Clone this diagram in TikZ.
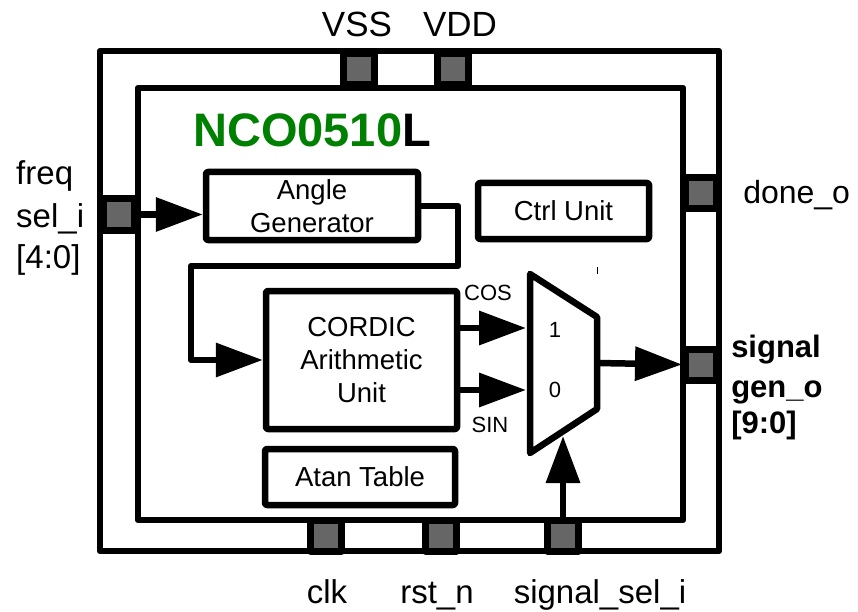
\documentclass[tikz,border=0pt]{standalone}
\usepackage{fontspec}
\setmainfont{Liberation Sans}
\usetikzlibrary{arrows.meta,positioning,calc}
\definecolor{ncogreen}{RGB}{0,128,0}
\definecolor{padgray}{RGB}{102,102,102}

\begin{document}
\begin{tikzpicture}[
    x=1pt, y=-1pt,
    line width=6.5pt, line join=round,
    block/.style={draw, rounded corners=2pt, align=center, inner sep=0pt, font=\fontsize{27.5}{33}\selectfont},
    pad/.style={draw, fill=padgray, line width=7pt, minimum size=31pt, inner sep=0pt},
    portlbl/.style={font=\fontsize{33}{41}\selectfont, inner sep=0pt, anchor=base},
    outlbl/.style={font=\fontsize{31}{38}\selectfont\bfseries, inner sep=0pt, anchor=base west},
    tinylbl/.style={font=\fontsize{22}{26}\selectfont, inner sep=0pt},
    sig/.style={-{Triangle[length=47pt,width=33pt]}}
  ]
  \useasboundingbox (0,0) rectangle (858,612);

  % chip outline, outer and core ring
  \draw (100,51) rectangle (719,551);
  \draw (138,88) rectangle (683,520);

  % pads
  \node[pad] (vss) at (359,69.5) {};
  \node[pad] (vdd) at (453,69.5) {};
  \node[pad] (fsel) at (119,214.5) {};
  \node[pad] (done) at (701,193.5) {};
  \node[pad] (sgo) at (701,364.5) {};
  \node[pad] (clk) at (326,535.5) {};
  \node[pad] (rstn) at (441,535.5) {};
  \node[pad] (ssel) at (563,535.5) {};

  % pin names
  \node[portlbl, font=\fontsize{35}{42}\selectfont] (vsslbl) at (357,37) {VSS};
  \node[portlbl, font=\fontsize{35}{42}\selectfont] (vddlbl) at (460,37) {VDD};
  \node[portlbl, anchor=base west] (fsel1) at (13,185) {freq};
  \node[portlbl, anchor=base west] (fsel2) at (13,227) {sel\_i};
  \node[portlbl, anchor=base west] (fsel3) at (13,268) {[4:0]};
  \node[portlbl, anchor=base west, font=\fontsize{32}{40}\selectfont] (donelbl) at (740,204) {done\_o};
  \node[outlbl] (sgo1) at (728,357) {signal};
  \node[outlbl] (sgo2) at (728,397) {gen\_o};
  \node[outlbl] (sgo3) at (728,433) {[9:0]};
  \node[portlbl] (clklbl) at (327,603) {clk};
  \node[portlbl] (rstnlbl) at (437,603) {rst\_n};
  \node[portlbl] (ssellbl) at (600,603) {signal\_sel\_i};

  % title
  \node[anchor=base west, inner sep=0pt, font=\fontsize{47}{56}\selectfont\bfseries] (title) at (190,147)
    {\textcolor{ncogreen}{NCO0510}L};

  % blocks
  \node[block, minimum width=212pt, minimum height=68pt] (ag) at (312,206) {Angle\\Generator};
  \node[block, minimum width=171pt, minimum height=56pt] (ctrl) at (563.5,211) {Ctrl Unit};
  \node[block, minimum width=191pt, minimum height=138pt] (cordic) at (361.5,360) {CORDIC\\Arithmetic\\Unit};
  \node[block, minimum width=190pt, minimum height=56pt] (atan) at (360,477) {Atan Table};

  % output mux
  \draw (530,274) -- (597,317) -- (597,409) -- (530,453) -- cycle;
  \coordinate (min1) at (526,328);
  \coordinate (min0) at (526,390);
  \coordinate (mout) at (597,363);
  \coordinate (msel) at (563,436);
  \node[tinylbl] (one) at (555,330) {1};
  \node[tinylbl] (zero) at (555,390) {0};
  \draw[line width=0.8pt] (597,267) -- (597,274);

  % connections
  \coordinate (bend1) at (458,266);
  \coordinate (bend2) at (191,360);
  \draw[sig] (fsel.east) -- (ag.west |- fsel);
  \draw[sig] (ag.east) -| (bend1) -| (bend2) -- (cordic.west);
  \draw[sig] (cordic.east |- min1) -- (min1);
  \draw[sig] (cordic.east |- min0) -- (min0);
  \node[tinylbl] (cos) at (488,292.5) {COS};
  \node[tinylbl] (sin) at (490,424.5) {SIN};
  \draw[sig] (mout) -- (sgo.west);
  \draw[sig] (ssel.north) -- (msel);
\end{tikzpicture}
\end{document}
